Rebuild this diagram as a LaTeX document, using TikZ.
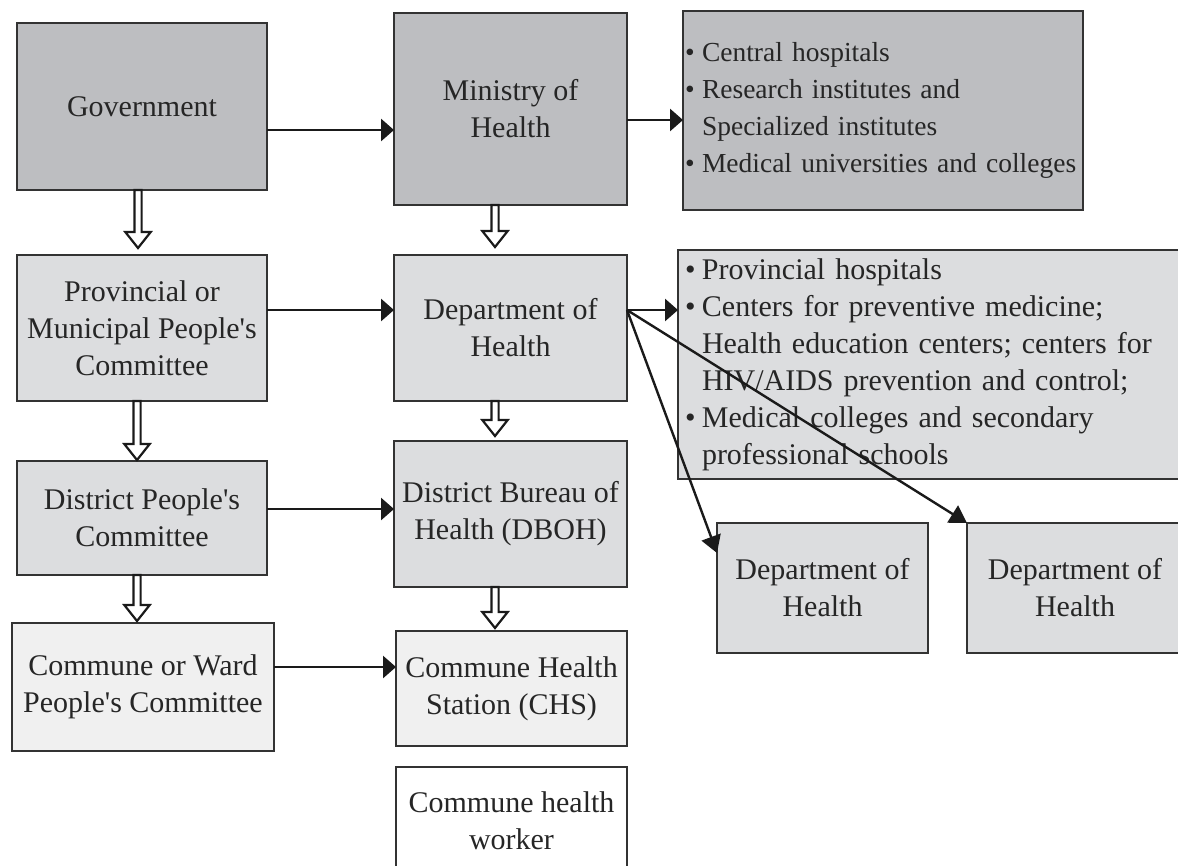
\documentclass[tikz,border=0pt]{standalone}
\usepackage{fontspec}
\setmainfont{Liberation Serif}
\usetikzlibrary{arrows.meta,calc}

\definecolor{boxdark}{HTML}{BDBEC1}
\definecolor{boxmid}{HTML}{DCDDDF}
\definecolor{boxlight}{HTML}{F0F0F0}
\definecolor{edge}{HTML}{333333}
\definecolor{ink}{HTML}{1A1A1A}
\definecolor{txt}{HTML}{262626}

% one list line: bullet or indent, then text that never wraps
\newcommand\bul[1]{\mbox{\makebox[17pt][l]{\textbullet}#1}}
\newcommand\ind[1]{\mbox{\hspace*{17pt}#1}}
\newcommand\apos{\textquotesingle}

% hollow block arrow pointing down: #1 x position, #2 source node, #3 target node, #4 gap above target
\newcommand\hollowdown[4]{%
  \path[hollow] let \p1=(#2.south), \p2=(#3.north) in
    ({#1pt-3.6pt},\y1) -- ({#1pt-3.6pt},{\y2+#4pt+16pt}) -- ({#1pt-12.7pt},{\y2+#4pt+16pt})
    -- ({#1pt},{\y2+#4pt}) -- ({#1pt+12.7pt},{\y2+#4pt+16pt}) -- ({#1pt+3.6pt},{\y2+#4pt+16pt})
    -- ({#1pt+3.6pt},\y1) -- cycle;}

\tikzset{
  orgbox/.style={draw=edge, line width=1.4pt, inner sep=0pt, outer sep=0pt,
    align=center, text=txt, font=\fontsize{30}{37}\selectfont},
  darkbox/.style={orgbox, fill=boxdark},
  midbox/.style={orgbox, fill=boxmid},
  lightbox/.style={orgbox, fill=boxlight},
  whitebox/.style={orgbox, fill=white},
  listbox/.style={align=left},
  hollow/.style={draw=ink, line width=2.2pt, fill=white, line join=miter},
  link/.style={draw=ink, line width=2.8pt, -{Triangle[length=13pt,width=22pt]}},
  slant/.style={draw=ink, line width=2.4pt, -{Triangle[length=17pt,width=20pt]}},
}

\begin{document}
\begin{tikzpicture}[x=1pt,y=-1pt]
\useasboundingbox (0,0) rectangle (1178,865);
\clip (0,0) rectangle (1178,865);

% national level
\node[darkbox, minimum width=250pt, minimum height=167pt] (gov) at (142,106.5) {Government};
\node[darkbox, minimum width=233pt, minimum height=192pt] (min) at (510.5,109) {Ministry of\\Health};
\node[darkbox, listbox, inner xsep=2pt, text width=396pt, minimum height=199pt,
      font=\fontsize{27.5}{37}\selectfont] (central) at (883,110.5)
  {\bul{Central hospitals}\\
   \bul{Research institutes and}\\
   \ind{Specialized institutes}\\
   \bul{Medical universities and colleges}};

% provincial level
\node[midbox, minimum width=250pt, minimum height=146pt] (prov) at (142,328)
  {Provincial or\\Municipal People\apos s\\Committee};
\node[midbox, minimum width=233pt, minimum height=146pt] (dept) at (510.5,328) {Department of\\Health};
\node[midbox, listbox, inner xsep=7pt, text width=503pt, minimum height=229pt] (prov units) at (936.5,364.5)
  {\bul{Provincial hospitals}\\
   \bul{Centers for preventive medicine;}\\
   \ind{Health education centers; centers for}\\
   \ind{HIV/AIDS prevention and control;}\\
   \bul{Medical colleges and secondary}\\
   \ind{professional schools}};

% district level
\node[midbox, minimum width=250pt, minimum height=114pt] (dist) at (142,518)
  {District People\apos s\\Committee};
\node[midbox, minimum width=233pt, minimum height=146pt] (dboh) at (510.5,514)
  {District Bureau of\\Health (DBOH)};
\node[midbox, minimum width=211pt, minimum height=130pt] (sub1) at (822.5,588) {Department of\\Health};
\node[midbox, minimum width=216pt, minimum height=130pt] (sub2) at (1075,588) {Department of\\Health};

% commune level
\node[lightbox, minimum width=262pt, minimum height=128pt] (comm) at (143,687)
  {Commune or Ward\\People\apos s Committee};
\node[lightbox, minimum width=231pt, minimum height=115pt] (chs) at (511.5,688.5)
  {Commune Health\\Station (CHS)};
\node[whitebox, minimum width=231pt, minimum height=108pt] (worker) at (511.5,821)
  {Commune health\\worker};

% lines of authority
\draw[link] ([yshift=-23.5pt]gov.east) -- ([yshift=-23.5pt]gov.east -| min.west);
\draw[link] ([yshift=-11pt]min.east) -- ([yshift=-11pt]min.east -| central.west);
\draw[link] ([yshift=18pt]prov.east) -- ([yshift=18pt]prov.east -| dept.west);
\draw[link] ([yshift=18pt]dept.east) -- ([yshift=18pt]dept.east -| prov units.west);
\draw[link] ([yshift=9pt]dist.east) -- ([yshift=9pt]dist.east -| dboh.west);
\draw[link] ([yshift=20pt]comm.east) -- ([yshift=20pt]comm.east -| chs.west);
\draw[slant] ([yshift=18pt]dept.east) -- ([yshift=35pt]sub1.west);
\draw[slant] ([yshift=18pt]dept.east) -- (sub2.north west);

% hierarchy steps
\hollowdown{138}{gov}{prov}{7}
\hollowdown{137}{prov}{dist}{1}
\hollowdown{137}{dist}{comm}{2}
\hollowdown{495}{min}{dept}{8}
\hollowdown{495}{dept}{dboh}{5}
\hollowdown{495}{dboh}{chs}{3}
\end{tikzpicture}
\end{document}
